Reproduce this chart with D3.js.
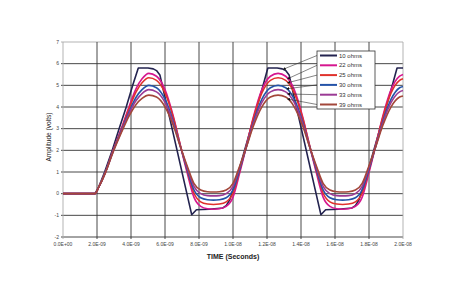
<!DOCTYPE html>
<html><head><meta charset="utf-8">
<script src="https://cdn.jsdelivr.net/npm/d3@7"></script>
<style>body{margin:0;background:#fff}</style>
</head><body><svg id="c" width="450" height="300"></svg>
<script>
const seriesNames = ["10 ohms","22 ohms","25 ohms","30 ohms","33 ohms","39 ohms"];
const seriesColors = ["#23234f","#d6178f","#e0322c","#2453a8","#9b3a95","#a3473a"];
const xTickValues = [0,2,4,6,8,10,12,14,16,18,20];
const xTickLabels = ["0.0E+00","2.0E-09","4.0E-09","6.0E-09","8.0E-09","1.0E-08","1.2E-08","1.4E-08","1.6E-08","1.8E-08","2.0E-08"];
const yTickValues = [-2,-1,0,1,2,3,4,5,6,7];

// 10 ohms (own time base, ns)
const timeNs10 = [0,1.88,2.1,2.45,2.9,3.3,3.72,4.1,4.43,5.0,5.31,5.5,5.7,6.2,6.7,7.2,7.57,7.85,8.6,9.4,9.6,9.8,10.1,10.5,10.9,11.3,11.7,12.05,12.6,12.9,13.1,13.3,13.8,14.3,14.8,15.17,15.45,16.2,17.0,17.2,17.4,17.7,18.1,18.5,18.9,19.3,19.65,20.0];
const volts10 = [0,0,0.3,1.0,2.0,3.0,4.0,5.0,5.8,5.8,5.76,5.68,5.48,3.75,2.03,0.3,-0.97,-0.74,-0.72,-0.66,-0.55,-0.3,0.4,1.5,2.6,3.7,4.8,5.8,5.8,5.76,5.68,5.48,3.75,2.03,0.3,-0.97,-0.74,-0.72,-0.66,-0.55,-0.3,0.4,1.5,2.6,3.7,4.8,5.8,5.8];

// other series (shared time base, ns)
const timeNs = [0,1.88,2.1,2.5,2.95,3.45,3.9,4.3,4.65,5.05,5.5,6.0,6.5,6.9,7.3,7.7,8.1,8.5,8.85,9.2,9.6,10.0,10.4,10.8,11.2,11.7,12.2,12.65,13.1,13.6,14.1,14.5,14.9,15.3,15.7,16.1,16.45,16.8,17.2,17.6,18.0,18.4,18.8,19.3,19.8,20.0];
const volts22 = [0,0,0.3,1.0,2.0,3.05,4.05,4.85,5.3,5.55,5.42,4.80,3.54,2.23,0.97,-0.16,-0.59,-0.70,-0.72,-0.70,-0.59,-0.16,0.97,2.23,3.54,4.80,5.42,5.55,5.42,4.80,3.54,2.23,0.97,-0.16,-0.59,-0.70,-0.72,-0.70,-0.59,-0.16,0.97,2.23,3.54,4.80,5.42,5.50];
const volts25 = [0,0,0.3,1.0,2.0,3.0,3.95,4.7,5.12,5.35,5.23,4.65,3.48,2.25,1.08,0.03,-0.38,-0.48,-0.5,-0.48,-0.38,0.03,1.08,2.25,3.48,4.65,5.23,5.35,5.23,4.65,3.48,2.25,1.08,0.03,-0.38,-0.48,-0.5,-0.48,-0.38,0.03,1.08,2.25,3.48,4.65,5.23,5.30];
const volts30 = [0,0,0.3,1.0,1.97,2.95,3.8,4.45,4.8,5.0,4.89,4.36,3.30,2.19,1.13,0.18,-0.19,-0.28,-0.3,-0.28,-0.19,0.18,1.13,2.19,3.30,4.36,4.89,5.0,4.89,4.36,3.30,2.19,1.13,0.18,-0.19,-0.28,-0.3,-0.28,-0.19,0.18,1.13,2.19,3.30,4.36,4.89,4.95];
const volts33 = [0,0,0.3,0.98,1.95,2.9,3.72,4.3,4.62,4.8,4.70,4.21,3.23,2.20,1.22,0.34,0.0,-0.09,-0.1,-0.09,0.0,0.34,1.22,2.20,3.23,4.21,4.70,4.8,4.70,4.21,3.23,2.20,1.22,0.34,0.0,-0.09,-0.1,-0.09,0.0,0.34,1.22,2.20,3.23,4.21,4.70,4.76];
const volts39 = [0,0,0.3,0.97,1.92,2.85,3.6,4.12,4.4,4.55,4.46,4.01,3.12,2.18,1.29,0.48,0.17,0.09,0.08,0.09,0.17,0.48,1.29,2.18,3.12,4.01,4.46,4.55,4.46,4.01,3.12,2.18,1.29,0.48,0.17,0.09,0.08,0.09,0.17,0.48,1.29,2.18,3.12,4.01,4.46,4.51];

// where each legend pointer lands (ns)
const pointerTimes = [12.95,13.2,13.2,13.15,13.2,13.2];

const series = [
  {t: timeNs10, v: volts10},
  {t: timeNs, v: volts22},
  {t: timeNs, v: volts25},
  {t: timeNs, v: volts30},
  {t: timeNs, v: volts33},
  {t: timeNs, v: volts39}
];

const svg = d3.select("#c");
const x = d3.scaleLinear().domain([0,20]).range([63,403]);
const y = d3.scaleLinear().domain([-2,7]).range([237,42]);
const font = "Liberation Sans, Arial, sans-serif";

// gridlines
const g = svg.append("g");
g.selectAll("line.h").data(yTickValues).join("line")
  .attr("x1", x(0)-2).attr("x2", x(20)).attr("y1", d=>y(d)).attr("y2", d=>y(d))
  .attr("stroke", d => (d===7) ? "#aaa" : "#333").attr("stroke-width", 0.9);
g.selectAll("line.v").data(xTickValues).join("line")
  .attr("y1", y(7)).attr("y2", y(-2)+2).attr("x1", d=>x(d)).attr("x2", d=>x(d))
  .attr("stroke", d => (d===0 || d===20) ? "#aaa" : "#333").attr("stroke-width", 0.9);

// tick labels
svg.append("g").selectAll("text").data(yTickValues).join("text")
  .attr("x", x(0)-4).attr("y", d=>y(d)+1.7).attr("text-anchor","end")
  .attr("font-family", font).attr("font-size", 5).attr("fill", "#444").text(d=>d);
svg.append("g").selectAll("text").data(xTickValues).join("text")
  .attr("x", d=>x(d)).attr("y", 246).attr("text-anchor","middle")
  .attr("font-family", font).attr("font-size", 5).attr("fill", "#444").text((d,i)=>xTickLabels[i]);

// axis titles
svg.append("text").attr("x", 233).attr("y", 258.5).attr("text-anchor","middle")
  .attr("font-family", font).attr("font-size", 7).attr("font-weight","bold").attr("fill","#222")
  .text("TIME (Seconds)");
svg.append("text").attr("transform","translate(50.5,137) rotate(-90)").attr("text-anchor","middle")
  .attr("font-family", font).attr("font-size", 6.6).attr("fill","#222")
  .text("Amplitude (volts)");

// lines
const clipG = svg.append("g");
series.forEach((s,i) => {
  const pts = s.t.map((t,k)=>[t, s.v[k]]);
  const line = d3.line().x(d=>x(d[0])).y(d=>y(d[1]))
    .curve(i===0 ? d3.curveLinear : d3.curveMonotoneX);
  clipG.append("path").datum(pts).attr("d", line)
    .attr("fill","none").attr("stroke", seriesColors[i])
    .attr("stroke-width", 1.6).attr("stroke-linejoin","round");
});

// legend
const lx = 317, ly = 51, lw = 58, lh = 58;
svg.append("defs").append("marker").attr("id","arr").attr("viewBox","0 0 10 10")
  .attr("refX",9).attr("refY",5).attr("markerWidth",5).attr("markerHeight",5)
  .attr("orient","auto").append("path").attr("d","M0,0L10,5L0,10z").attr("fill","#111");

function valueAt(s, t) {
  const k = d3.bisectRight(s.t, t);
  const t0 = s.t[k-1], t1 = s.t[k], v0 = s.v[k-1], v1 = s.v[k];
  return v0 + (v1-v0)*(t-t0)/(t1-t0);
}
seriesNames.forEach((n,i) => {
  const ry = ly + 4.5 + i*9.8;
  svg.append("line").attr("x1", lx).attr("y1", ry)
    .attr("x2", x(pointerTimes[i])).attr("y2", y(valueAt(series[i], pointerTimes[i])))
    .attr("stroke","#333").attr("stroke-width",0.6).attr("marker-end","url(#arr)");
});
svg.append("rect").attr("x",lx).attr("y",ly).attr("width",lw).attr("height",lh)
  .attr("fill","#fff").attr("stroke","#333").attr("stroke-width",0.8);
seriesNames.forEach((n,i) => {
  const ry = ly + 4.5 + i*9.8;
  svg.append("line").attr("x1", lx+3).attr("x2", lx+20).attr("y1", ry).attr("y2", ry)
    .attr("stroke", seriesColors[i]).attr("stroke-width", 2);
  svg.append("text").attr("x", lx+22).attr("y", ry+2).attr("font-family", font)
    .attr("font-size", 6).attr("fill","#333").text(n);
});
</script></body></html>
